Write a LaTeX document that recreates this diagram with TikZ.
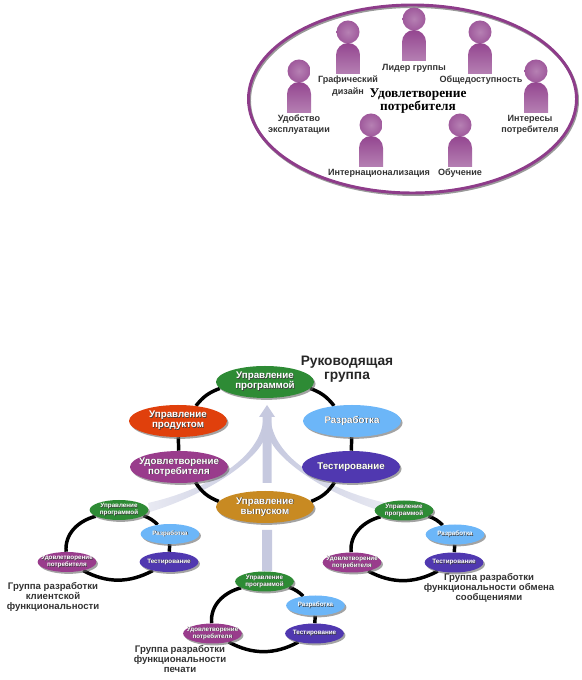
\documentclass[tikz,border=0pt]{standalone}
\usepackage{fontspec}
\setmainfont{Liberation Sans}
\newfontfamily\titlefont{Liberation Serif}
\usetikzlibrary{shapes.geometric,shadows,backgrounds}

\definecolor{ringpurple}{HTML}{8E3C8A}
\definecolor{armgray}{HTML}{C6C9DF}
\definecolor{progcolor}{HTML}{2E8B35}
\definecolor{prodcolor}{HTML}{E0400C}
\definecolor{devcolor}{HTML}{6CB6F8}
\definecolor{satcolor}{HTML}{993C8C}
\definecolor{testcolor}{HTML}{5038B0}
\definecolor{relcolor}{HTML}{C88A22}

\newcommand{\glow}[1]{\makebox[0pt][c]{\rlap{\raisebox{-.5pt}{\kern.5pt\makebox[0pt][c]{\color{black!75}#1}}}\makebox[0pt][c]{\color{white}#1}}}

\tikzset{
    oval/.style={ellipse,inner sep=0pt,align=center,font=\bfseries,
        drop shadow={shadow xshift=1.2pt,shadow yshift=-1.4pt,fill=black!60,opacity=.6}},
    bigoval/.style={oval,minimum width=73.5pt,minimum height=24pt,font=\fontsize{7.3}{7.5}\selectfont\bfseries},
    smalloval/.style={oval,minimum width=44pt,minimum height=15pt,font=\fontsize{4.7}{5.2}\selectfont\bfseries},
    ringlink/.style={line width=2.6pt,black},
    role/.style={font=\fontsize{6.8}{8.6}\selectfont\bfseries,align=center,text=black!80,inner sep=0pt},
    teamlabel/.style={font=\fontsize{7.2}{7.6}\selectfont\bfseries,align=center,text=black!80,inner sep=0pt},
}

\begin{document}
\begin{tikzpicture}[x=.75pt,y=.75pt]
    \useasboundingbox (0,0) rectangle (581,680);

    % top oval with the people
    \draw[black!40,line width=2.2pt] (413.5,579.5) ellipse (164 and 94);
    \draw[ringpurple,line width=2.2pt] (412.5,581) ellipse (164 and 94);

    \foreach \x/\y in {414/661,348/648,480/648,299/609,536/609,371/555,460/555}{
        \shade[top color=ringpurple!95,bottom color=ringpurple!65] (\x-12,\y-42) -- (\x-12,\y-23) arc (180:0:12) -- (\x+12,\y-42) -- cycle;
        \shade[inner color=ringpurple!65,outer color=ringpurple!85] (\x,\y) circle (11.5);
    }

    \node[role] (lead) at (414,612) {Лидер группы};
    \node[role] (graphic) at (348,594) {Графический\\дизайн};
    \node[role] (access) at (481,600) {Общедоступность};
    \node[role] (usable) at (299,555.5) {Удобство\\эксплуатации};
    \node[role] (interest) at (530,555) {Интересы\\потребителя};
    \node[role] (intl) at (379,507) {Интернационализация};
    \node[role] (learn) at (460,507) {Обучение};
    \node[font=\titlefont\fontsize{10}{9.8}\selectfont\bfseries,align=center,inner sep=0pt] (satisfy) at (418,578.5) {Удовлетворение\\потребителя};

    % leading team
    \node[bigoval,fill=progcolor] (prog) at (265,298) {\glow{Управление}\\\glow{программой}};
    \node[bigoval,fill=prodcolor] (prod) at (178,259) {\glow{Управление}\\\glow{продуктом}};
    \node[bigoval,fill=devcolor] (dev) at (352,259) {\glow{Разработка}};
    \node[bigoval,fill=satcolor] (sat) at (179,213) {\glow{Удовлетворение}\\\glow{потребителя}};
    \node[bigoval,fill=testcolor] (test) at (351,213) {\glow{Тестирование}};
    \node[bigoval,fill=relcolor] (rel) at (265,173) {\glow{Управление}\\\glow{выпуском}};

    \node[font=\fontsize{10.3}{10.5}\selectfont\bfseries,align=center,inner sep=0pt,text=black!85] (leadteam) at (347,311) {Руководящая\\группа};

    % small teams
    \foreach \team/\dx/\dy in {client/0/0,print/145.5/-71.5,msg/285/-.5}{
        \node[smalloval,fill=progcolor] (\team-prog) at (119+\dx,170+\dy) {\glow{Управление}\\\glow{программой}};
        \node[smalloval,fill=devcolor] (\team-dev) at (170+\dx,146+\dy) {\glow{Разработка}};
        \node[smalloval,fill=testcolor] (\team-test) at (169+\dx,118+\dy) {\glow{Тестирование}};
        \node[smalloval,fill=satcolor] (\team-sat) at (67+\dx,118+\dy) {\glow{Удовлетворение}\\\glow{потребителя}};
    }

    \node[teamlabel] (clientlabel) at (53,83) {Группа разработки\\клиентской\\функциональности};
    \node[teamlabel] (printlabel) at (180,21) {Группа разработки\\функциональности\\печати};
    \node[teamlabel] (msglabel) at (489,92) {Группа разработки\\функциональности обмена\\сообщениями};

    \begin{scope}[on background layer]
        % big grey arrows
        \fill[armgray] (262.5,197) -- (262.5,263) -- (259,263) -- (267,275) -- (275,263) -- (271.5,263) -- (271.5,197) -- cycle;
        \shade[left color=armgray!40,right color=armgray] (148,177) .. controls (205,190) and (258,220) .. (263,258) -- (263,238) .. controls (250,215) and (205,185) .. (150,168) -- cycle;
        \shade[right color=armgray!40,left color=armgray] (386,177) .. controls (329,190) and (276,220) .. (271,258) -- (271,238) .. controls (284,215) and (329,185) .. (384,168) -- cycle;
        \draw[armgray,line width=7.5pt,shorten <=5pt] ([xshift=1.5pt]rel.south) -- ([xshift=1.9pt]print-prog.north);

        \draw[ringlink] (prog) to[bend right=16] (prod);
        \draw[ringlink] (prod) -- (sat);
        \draw[ringlink] (sat) to[bend right=18] (rel);
        \draw[ringlink] (rel) to[bend right=18] (test);
        \draw[ringlink] (test) -- (dev);
        \draw[ringlink] (dev) to[bend right=16] (prog);

        \foreach \team in {client,print,msg}{
            \draw[ringlink] (\team-prog) to[out=195,in=95] (\team-sat);
            \draw[ringlink] (\team-sat) to[bend right=28] (\team-test);
            \draw[ringlink] (\team-test) -- (\team-dev);
            \draw[ringlink] (\team-dev) to[bend right=12] (\team-prog);
        }
    \end{scope}
\end{tikzpicture}
\end{document}
